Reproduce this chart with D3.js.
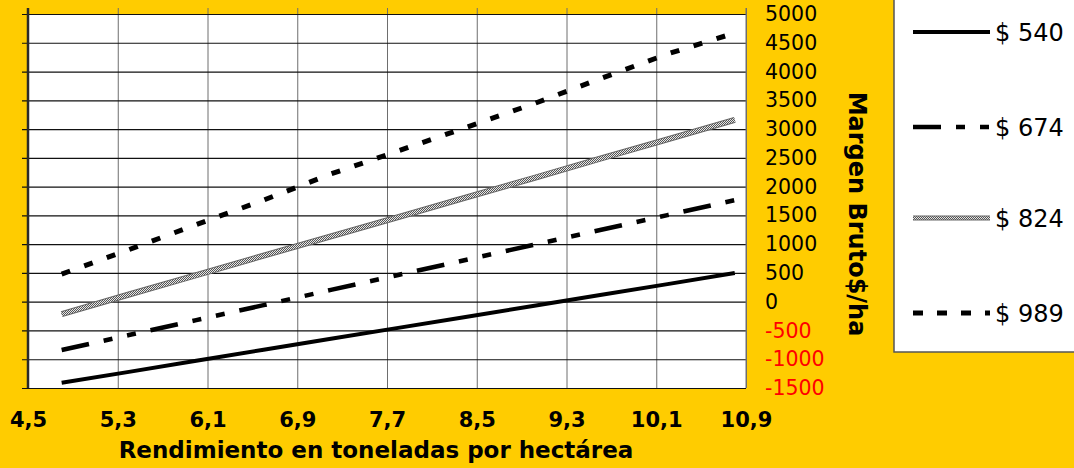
<!DOCTYPE html>
<html>
<head>
<meta charset="utf-8">
<script src="https://cdn.jsdelivr.net/npm/d3@7"></script>
<style>
  html, body { margin: 0; padding: 0; background: #FFCC00; }
  svg { display: block; font-family: "DejaVu Sans", Verdana, sans-serif; }
</style>
</head>
<body>
<svg id="chart" width="1074" height="468"></svg>
<script>
// ---- data ----
const yields = [4.8, 5.4, 6.0, 6.6, 7.2, 7.8, 8.4, 9.0, 9.6, 10.2, 10.8];
const seriesNames = ["$ 540", "$ 674", "$ 824", "$ 989"];
const values540 = [-1410, -1220, -1025, -835, -645, -455, -265, -75, 115, 305, 500];
const values674 = [-840, -580, -320, -60, 205, 465, 725, 985, 1245, 1505, 1765];
const values824 = [-215, 125, 460, 800, 1135, 1470, 1810, 2145, 2485, 2820, 3160];
const values989 = [480, 905, 1340, 1765, 2220, 2620, 3025, 3435, 3875, 4305, 4670];
const xTickValues = [4.5, 5.3, 6.1, 6.9, 7.7, 8.5, 9.3, 10.1, 10.9];
const xTickLabels = ["4,5", "5,3", "6,1", "6,9", "7,7", "8,5", "9,3", "10,1", "10,9"];
const yTickValues = [-1500, -1000, -500, 0, 500, 1000, 1500, 2000, 2500, 3000, 3500, 4000, 4500, 5000];
const xTitle = "Rendimiento en toneladas por hectárea";
const yTitle = "Margen Bruto$/ha";

// ---- layout ----
const L = 28, R = 746, T = 14, B = 388;
const svg = d3.select("#chart");
const x = d3.scaleLinear().domain([4.5, 10.9]).range([L, R]);
const y = d3.scaleLinear().domain([-1500, 5000]).range([B, T]);

// pattern for the stippled grey line
const defs = svg.append("defs");
const pat = defs.append("pattern").attr("id", "stip").attr("patternUnits", "userSpaceOnUse")
  .attr("width", 2).attr("height", 2);
pat.append("rect").attr("width", 2).attr("height", 2).attr("fill", "#e8e8e8");
pat.append("rect").attr("width", 1).attr("height", 1).attr("fill", "#555");
pat.append("rect").attr("x", 1).attr("y", 1).attr("width", 1).attr("height", 1).attr("fill", "#555");

// plot background
svg.append("rect").attr("x", L).attr("y", T).attr("width", R - L).attr("height", B - T).attr("fill", "#fff");

// vertical grid lines (extend above plot as ticks)
const vgrid = svg.append("g").attr("transform", `translate(0,${B})`)
  .call(d3.axisBottom(x).tickValues(xTickValues).tickSize(-(B - T + 6)).tickFormat(""));
vgrid.select(".domain").remove();
vgrid.selectAll(".tick line").attr("stroke", "#6e6e6e").attr("stroke-width", 1);

// horizontal grid lines (extend left as ticks)
const hgrid = svg.append("g").attr("transform", `translate(${R},0)`)
  .call(d3.axisLeft(y).tickValues(yTickValues).tickSize(R - L + 6).tickFormat(""));
hgrid.select(".domain").remove();
hgrid.selectAll(".tick line").attr("stroke", "#111").attr("stroke-width", 1.2);

// left border
svg.append("line").attr("x1", L).attr("x2", L).attr("y1", T - 6).attr("y2", B)
  .attr("stroke", "#2a2a2a").attr("stroke-width", 2.5);
// right border
svg.append("line").attr("x1", R).attr("x2", R).attr("y1", T - 6).attr("y2", B)
  .attr("stroke", "#6e6e6e").attr("stroke-width", 1);

// x tick labels
const xl = svg.append("g").attr("transform", `translate(0,${B})`)
  .call(d3.axisBottom(x).tickValues(xTickValues).tickSize(0).tickPadding(24)
    .tickFormat((d, i) => xTickLabels[i]));
xl.select(".domain").remove();
xl.selectAll("text").attr("font-size", 21).attr("font-weight", "bold").attr("fill", "#000")
  .attr("font-family", "DejaVu Sans");

// right y labels
const yl = svg.append("g").attr("transform", `translate(${R},0)`)
  .call(d3.axisRight(y).tickValues(yTickValues).tickSize(0).tickPadding(19).tickFormat(d => String(d)));
yl.select(".domain").remove();
yl.selectAll("text").attr("font-size", 20.5).attr("font-family", "DejaVu Sans")
  .attr("fill", d => d < 0 ? "#FF0000" : "#000");

// titles
svg.append("text").attr("x", 376).attr("y", 458).attr("text-anchor", "middle")
  .attr("font-size", 23).attr("font-weight", "bold").text(xTitle);
svg.append("text").attr("transform", "translate(849,214) rotate(90)").attr("text-anchor", "middle")
  .attr("font-size", 24).attr("font-weight", "bold").text(yTitle);

// series
const series = [
  { name: seriesNames[0], values: values540, dash: null, width: 4 },
  { name: seriesNames[1], values: values674, dash: "28,15,9,15,9,15", width: 4.5 },
  { name: seriesNames[2], values: values824, dash: null, width: 5, stip: true },
  { name: seriesNames[3], values: values989, dash: "9,15", width: 5 }
];
const line = d3.line().x((d, i) => x(yields[i])).y(d => y(d));

series.forEach(s => {
  if (s.stip) {
    svg.append("path").datum(s.values).attr("d", line).attr("fill", "none")
      .attr("stroke", "#666").attr("stroke-width", 6);
    svg.append("path").datum(s.values).attr("d", line).attr("fill", "none")
      .attr("stroke", "url(#stip)").attr("stroke-width", 4);
  } else {
    svg.append("path").datum(s.values).attr("d", line).attr("fill", "none")
      .attr("stroke", "#000").attr("stroke-width", s.width)
      .attr("stroke-dasharray", s.dash);
  }
});

// legend
svg.append("rect").attr("x", 894).attr("y", -2).attr("width", 200).attr("height", 354)
  .attr("fill", "#fff").attr("stroke", "#555").attr("stroke-width", 1.5);
const legY = [32, 127, 218, 313];
const legDash = [null, "28,15,9,15,9,15", null, "10,14"];
series.forEach((s, i) => {
  const g = svg.append("g");
  if (s.stip) {
    g.append("line").attr("x1", 913).attr("x2", 990).attr("y1", legY[i]).attr("y2", legY[i])
      .attr("stroke", "#666").attr("stroke-width", 5);
    g.append("line").attr("x1", 913).attr("x2", 990).attr("y1", legY[i]).attr("y2", legY[i])
      .attr("stroke", "url(#stip)").attr("stroke-width", 3);
  } else {
    g.append("line").attr("x1", 913).attr("x2", 990).attr("y1", legY[i]).attr("y2", legY[i])
      .attr("stroke", "#000").attr("stroke-width", s.width).attr("stroke-dasharray", legDash[i]);
  }
  g.append("text").attr("x", 995).attr("y", legY[i]).attr("dy", "0.36em")
    .attr("font-size", 24).attr("fill", "#000").text(s.name);
});
</script>
</body>
</html>
